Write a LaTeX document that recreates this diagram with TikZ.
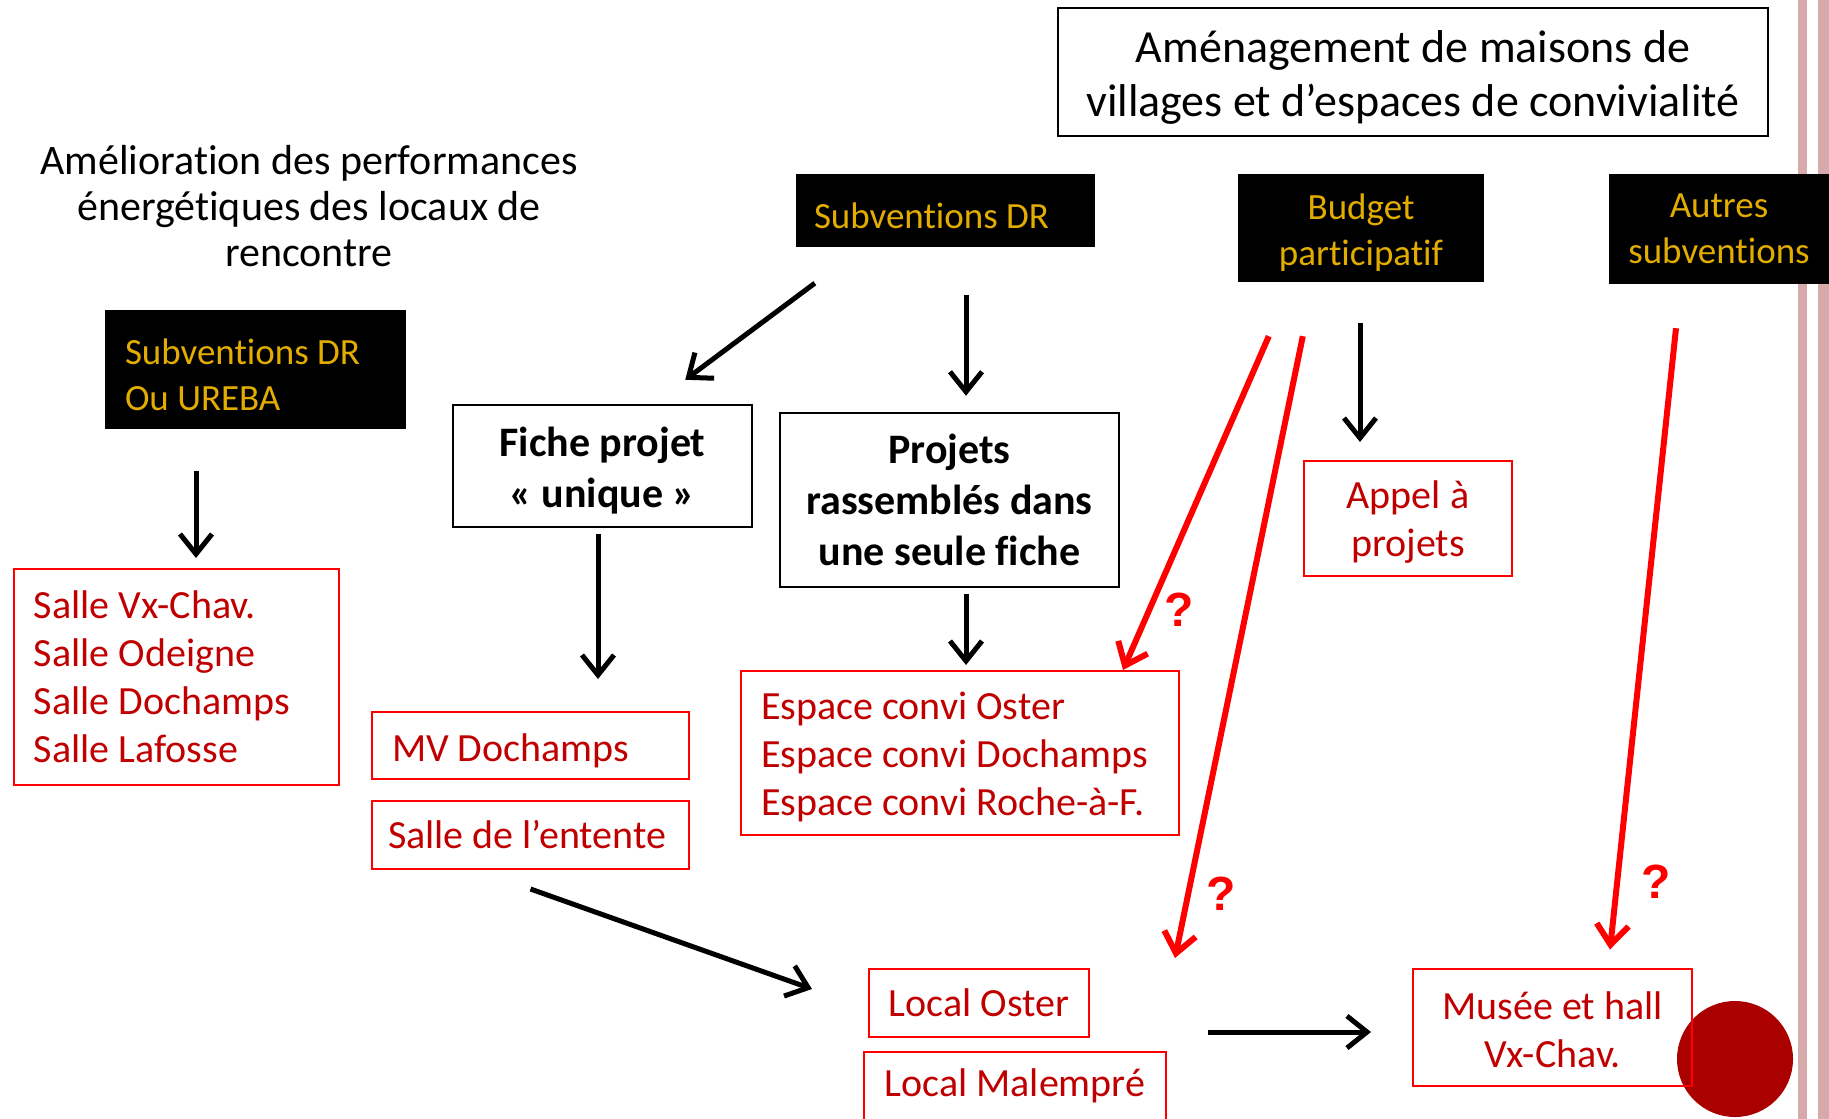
\documentclass[tikz,border=0pt]{standalone}
\usepackage{fontspec}
\setmainfont{Carlito}[Ligatures=NoCommon]
\newfontfamily\qfont{Liberation Sans}
\usetikzlibrary{positioning,arrows.meta}
\definecolor{gold}{RGB}{226,172,0}
\definecolor{textred}{RGB}{192,0,0}
\definecolor{circred}{RGB}{170,0,0}
\definecolor{stripe}{RGB}{214,170,170}
\tikzset{
	black box/.style={fill=black, text=gold, inner sep=0pt, align=center, font=\fontsize{37}{45.5}\selectfont},
	frame box/.style={draw=black, line width=2.5pt, inner sep=0pt, align=center},
	red box/.style={draw=red, line width=2pt, text=textred, inner sep=0pt, align=center, font=\fontsize{40}{48}\selectfont},
	left text/.style={align=flush left, inner xsep=20pt},
	mid text/.style={align=flush center, text width=#1},
	drop/.style={execute at begin node={\rule{0pt}{#1}}},
	flow arrow/.style={line width=5pt, -{Straight Barb[length=20pt,width=32pt]}},
	red arrow/.style={flow arrow, draw=red, line width=6pt},
	query/.style={text=red, font=\qfont\bfseries\fontsize{48}{48}\selectfont},
}
\begin{document}
\begin{tikzpicture}[x=1pt,y=-1pt]
	\useasboundingbox (0,0) rectangle (1829,1119);
	% slide border on the right
	\fill [stripe] (1798,0) rectangle (1807,1119);
	\fill [stripe] (1818,0) rectangle (1829,1119);
	\fill [circred] (1735,1059) circle (58pt);

	% titles
	\node [frame box,mid text=700pt,drop=0.92em,minimum width=710pt,minimum height=128pt,font=\fontsize{46}{54}\selectfont] (amen) at (1413,72) {Aménagement de maisons de\\villages et d’espaces de convivialité};
	\node [align=center,font=\fontsize{42}{46}\selectfont] (perf) at (309,206) {Amélioration des performances\\énergétiques des locaux de\\rencontre};

	% sources
	\node [black box,drop=0.97em,left text,inner xsep=18pt,text width=263pt,minimum height=73pt] (subdr) at (945.5,210.5) {Subventions DR};
	\node [black box,mid text=236pt,drop=0.95em,minimum width=246pt,minimum height=108pt] (budget) at (1361,228) {Budget\\participatif};
	\node [black box,minimum width=220pt,minimum height=110pt] (autres) at (1719,229) {Autres\\subventions};
	\node [black box,drop=0.97em,left text,text width=261pt,minimum height=119pt] (ureba) at (255.5,369.5) {Subventions DR\\Ou UREBA};

	% fiches
	\node [frame box,mid text=289pt,drop=0.9em,minimum width=299pt,minimum height=122pt,font=\bfseries\fontsize{42}{51}\selectfont] (fiche) at (602.5,466) {Fiche projet\\« unique »};
	\node [frame box,minimum width=339pt,minimum height=174pt,font=\bfseries\fontsize{42}{51}\selectfont] (projets) at (949.5,500) {Projets\\rassemblés dans\\une seule fiche};
	\node [red box,mid text=198pt,drop=0.88em,minimum width=208pt,minimum height=115pt] (appel) at (1408,518.5) {Appel à\\projets};

	% projects
	\node [red box,left text,text width=285pt,minimum height=216pt] (salles) at (176.5,677) {Salle Vx-Chav.\\Salle Odeigne\\Salle Dochamps\\Salle Lafosse};
	\node [red box,drop=0.94em,left text,text width=277pt,minimum height=67pt] (mvdoch) at (530.5,745.5) {MV Dochamps};
	\node [red box,left text,inner xsep=16pt,text width=285pt,minimum height=68pt] (entente) at (530.5,835) {Salle de l’entente};
	\node [red box,drop=0.88em,left text,text width=398pt,minimum height=164pt] (espace) at (960,753) {Espace convi Oster\\Espace convi Dochamps\\Espace convi Roche-à-F.};
	\node [red box,minimum width=220pt,minimum height=68pt] (loster) at (979,1003) {Local Oster};
	\node [red box,minimum width=302pt,minimum height=68pt] (lmalem) at (1015,1086) {Local Malempré};
	\node [red box,mid text=269pt,drop=0.82em,minimum width=279pt,minimum height=117pt] (musee) at (1552.5,1027) {Musée et hall\\Vx-Chav.};

	% connectors
	\draw [flow arrow,shorten <=42pt,shorten >=10pt] ([xshift=-59.5pt]ureba.south) -- ([xshift=19.5pt]salles.north);
	\draw [flow arrow] ([xshift=19pt,yshift=-36pt]subdr.south west) -- ([xshift=-68pt,yshift=24pt]fiche.north east);
	\draw [flow arrow,shorten <=48pt,shorten >=16pt] ([xshift=20.5pt]subdr.south) -- ([xshift=16.5pt]projets.north);
	\draw [flow arrow,shorten <=6pt,shorten >=32pt] ([xshift=-4.5pt]fiche.south) -- ([xshift=67.5pt]mvdoch.north);
	\draw [flow arrow,shorten <=6pt,shorten >=5pt] ([xshift=16.5pt]projets.south) -- ([xshift=6pt]espace.north);
	\draw [flow arrow,shorten <=41pt,shorten >=18pt] ([xshift=-1pt]budget.south) -- ([xshift=-48pt]appel.north);
	\draw [red arrow] ([xshift=31pt,yshift=-54pt]budget.south west) -- ([xshift=-57pt]espace.north east);
	\draw [red arrow] ([xshift=65pt,yshift=-54pt]budget.south west) -- ([xshift=85pt,yshift=10pt]loster.north east);
	\draw [red arrow] ([xshift=-43pt,yshift=-44pt]autres.south) -- ([xshift=57.5pt,yshift=18pt]musee.north);
	\draw [flow arrow] ([yshift=-19pt]entente.south) -- ([xshift=-56pt,yshift=14pt]loster.west);
	\draw [flow arrow] ([xshift=118pt,yshift=-29pt]loster.east) -- ([xshift=-41pt,yshift=-5pt]musee.west);

	% open questions
	\node [query] (q1) at (1179,610) {?};
	\node [query] (q2) at (1221,894) {?};
	\node [query] (q3) at (1656,882) {?};
\end{tikzpicture}
\end{document}
